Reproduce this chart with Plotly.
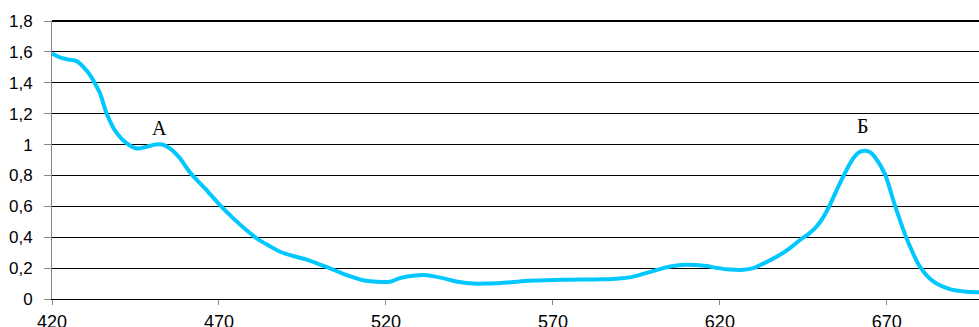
import plotly.graph_objects as go

wavelength = [420, 422.4, 425, 427.4, 429.5, 431.4, 433, 434.4, 436.4, 438.9, 442.4, 445.4,
              448.4, 451, 453, 455.3, 458, 461.3, 465.8, 470.3, 474.3, 478, 481.3, 485,
              488.3, 492, 496.3, 500, 503.2, 507, 511.2, 514, 517.2, 521.2, 524.2, 528,
              531.2, 534, 538.2, 542, 546.1, 550, 553.1, 558, 563.1, 568, 573.1, 578,
              583.1, 587, 590, 593, 596, 600, 603, 606.5, 610, 613, 616, 619.5, 623, 627,
              630, 633, 637, 641, 644, 646.5, 648.9, 651, 652.9, 656.4, 659.9, 661.7,
              663.4, 665, 666.4, 669.4, 672.4, 675.9, 679.9, 683.9, 688.9, 693.9, 697.6]
absorbance = [1.59, 1.565, 1.55, 1.54, 1.50, 1.45, 1.39, 1.33, 1.20, 1.09, 1.007, 0.975,
              0.986, 1.0, 1.0, 0.975, 0.92, 0.82, 0.716, 0.608, 0.522, 0.45, 0.393, 0.345,
              0.306, 0.28, 0.255, 0.225, 0.199, 0.165, 0.134, 0.118, 0.112, 0.112, 0.135, 0.15,
              0.155, 0.148, 0.129, 0.11, 0.10, 0.10, 0.102, 0.11, 0.118, 0.122, 0.124, 0.126,
              0.127, 0.128, 0.132, 0.14, 0.156, 0.18, 0.20, 0.215, 0.222, 0.22, 0.213, 0.20,
              0.191, 0.189, 0.20, 0.229, 0.273, 0.33, 0.382, 0.42, 0.468, 0.53, 0.607, 0.77,
              0.91, 0.95, 0.96, 0.95, 0.92, 0.81, 0.607, 0.393, 0.21, 0.114, 0.064, 0.047, 0.043]

x_ticks = [420, 470, 520, 570, 620, 670]
y_ticks = [0, 0.2, 0.4, 0.6, 0.8, 1.0, 1.2, 1.4, 1.6, 1.8]
y_tick_labels = ["0", "0,2", "0,4", "0,6", "0,8", "1", "1,2", "1,4", "1,6", "1,8"]

label_text = ["А", "Б"]
label_x = [452.3, 662.7]
label_y = [1.11, 1.12]

fig = go.Figure()
fig.add_trace(go.Scatter(
    x=wavelength, y=absorbance, mode="lines",
    line=dict(color="#00C8FF", width=4, shape="spline", smoothing=0.8),
    showlegend=False, hoverinfo="skip"))

for t, xx, yy in zip(label_text, label_x, label_y):
    fig.add_annotation(x=xx, y=yy, text=t, showarrow=False,
                       font=dict(family="Liberation Serif", size=20, color="#000000"))

fig.add_shape(type="line", xref="paper", yref="y domain", x0=0, x1=1, y0=1, y1=1,
              line=dict(color="#000000", width=2))

fig.update_layout(
    width=979, height=327,
    margin=dict(l=52, r=0, t=21, b=28, autoexpand=False),
    paper_bgcolor="white", plot_bgcolor="white",
    font=dict(family="Liberation Sans", size=17, color="#000000"),
    xaxis=dict(range=[420, 697.6], tickvals=x_ticks, ticktext=[str(v) for v in x_ticks],
               showgrid=False, zeroline=False, showline=True, linecolor="#000000",
               linewidth=1, ticks="outside", ticklen=5, tickcolor="#868686",
               tickfont=dict(size=18), ticklabelstandoff=1, automargin=False),
    yaxis=dict(range=[0, 1.8], tickvals=y_ticks, ticktext=y_tick_labels,
               showgrid=True, gridcolor="#000000", gridwidth=1, zeroline=False,
               showline=True, linecolor="#868686", linewidth=1,
               ticks="outside", ticklen=7, tickcolor="#868686",
               tickfont=dict(size=17), ticklabelstandoff=8, automargin=False),
)

fig.write_html("out.html", config={"displayModeBar": False, "staticPlot": True},
               post_script="document.body.style.margin='0';document.body.style.overflow='hidden';")
